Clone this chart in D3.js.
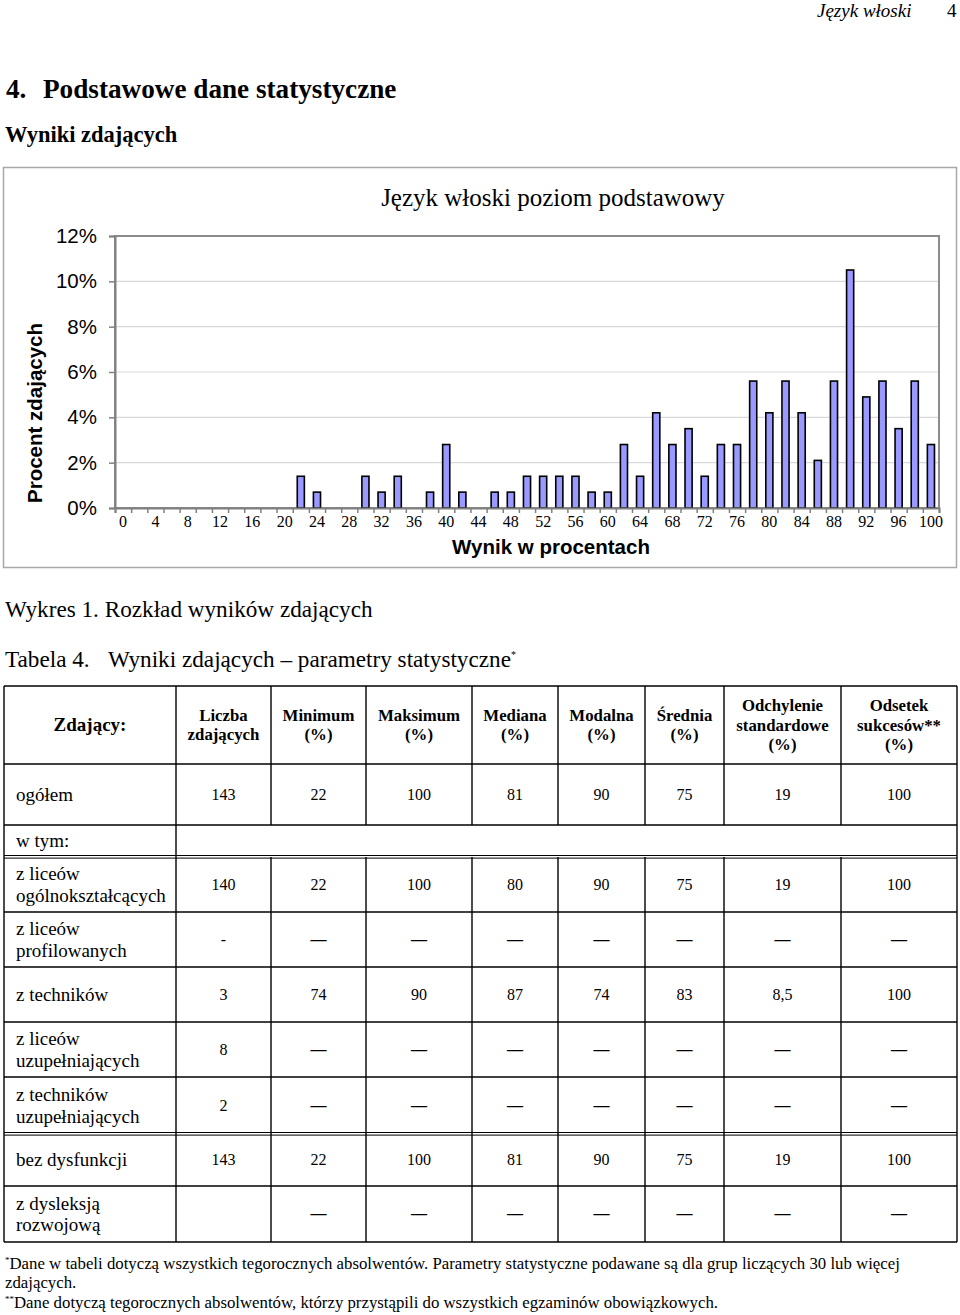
<!DOCTYPE html>
<html>
<head>
<meta charset="utf-8">
<script src="https://cdn.jsdelivr.net/npm/d3@7"></script>
<style>
body { margin: 0; background: #fff; }
svg text { font-family: "Liberation Serif", "Times New Roman", serif; fill: #000; }
svg text.sans, .sans text { font-family: "Liberation Sans", Arial, sans-serif; }
</style>
</head>
<body>
<svg id="page" width="960" height="1315"></svg>
<script>
// CHART DATA ////////////////////////////////////////
var scores = [0, 2, 4, 6, 8, 10, 12, 14, 16, 18, 20, 22, 24, 26, 28, 30, 32, 34, 36, 38, 40, 42, 44, 46, 48, 50,
	      52, 54, 56, 58, 60, 62, 64, 66, 68, 70, 72, 74, 76, 78, 80, 82, 84, 86, 88, 90, 92, 94, 96, 98, 100];
// percent of candidates for each score
var percent = [0, 0, 0, 0, 0, 0, 0, 0, 0, 0, 0, 1.4, 0.7, 0, 0, 1.4, 0.7, 1.4, 0, 0.7, 2.8, 0.7, 0, 0.7, 0.7, 1.4,
	       1.4, 1.4, 1.4, 0.7, 0.7, 2.8, 1.4, 4.2, 2.8, 3.5, 1.4, 2.8, 2.8, 5.6, 4.2, 5.6, 4.2, 2.1, 5.6, 10.5, 4.9, 5.6, 3.5, 5.6, 2.8];
var yTicks = [0, 2, 4, 6, 8, 10, 12];
var xLabels = [0, 4, 8, 12, 16, 20, 24, 28, 32, 36, 40, 44, 48, 52, 56, 60, 64, 68, 72, 76, 80, 84, 88, 92, 96, 100];

// TABLE DATA ////////////////////////////////////////
var colHeads = [['Zdający:'], ['Liczba', 'zdających'], ['Minimum', '(%)'], ['Maksimum', '(%)'], ['Mediana', '(%)'],
		['Modalna', '(%)'], ['Średnia', '(%)'], ['Odchylenie', 'standardowe', '(%)'], ['Odsetek', 'sukcesów**', '(%)']];
var rowLabels = [['ogółem'], ['w tym:'], ['z liceów', 'ogólnokształcących'], ['z liceów', 'profilowanych'], ['z techników'],
		 ['z liceów', 'uzupełniających'], ['z techników', 'uzupełniających'], ['bez dysfunkcji'], ['z dysleksją', 'rozwojową']];
var D = '—';
var rowValues = [['143', '22', '100', '81', '90', '75', '19', '100'],
		 null,
		 ['140', '22', '100', '80', '90', '75', '19', '100'],
		 ['-', D, D, D, D, D, D, D],
		 ['3', '74', '90', '87', '74', '83', '8,5', '100'],
		 ['8', D, D, D, D, D, D, D],
		 ['2', D, D, D, D, D, D, D],
		 ['143', '22', '100', '81', '90', '75', '19', '100'],
		 ['', D, D, D, D, D, D, D]];

var svg = d3.select('#page');

// PAGE TEXTS ////////////////////////////////////////
svg.append('text').attr('x', 817).attr('y', 17).style('font-size', '19px').style('font-style', 'italic').text('Język włoski');
svg.append('text').attr('x', 947).attr('y', 17).style('font-size', '19px').text('4');
svg.append('text').attr('x', 6).attr('y', 98).style('font-size', '27.2px').style('font-weight', 'bold').text('4.');
svg.append('text').attr('x', 43).attr('y', 98).style('font-size', '27.2px').style('font-weight', 'bold').text('Podstawowe dane statystyczne');
svg.append('text').attr('x', 5).attr('y', 142).style('font-size', '22.5px').style('font-weight', 'bold').text('Wyniki zdających');

// CHART /////////////////////////////////////////////
var plot = {left: 115, top: 236, right: 939, bottom: 508};

svg.append('rect')
    .attr('x', 3.5).attr('y', 167.5).attr('width', 953).attr('height', 400)
    .attr('fill', 'none').attr('stroke', '#a8a8a8').attr('stroke-width', 1.5);

svg.append('text').attr('x', 553).attr('y', 206).attr('text-anchor', 'middle')
    .style('font-size', '25px').text('Język włoski poziom podstawowy');

var x = d3.scaleBand().domain(scores).range([plot.left, plot.right]).paddingInner(0.56).paddingOuter(0.28);
var xb = d3.scaleLinear().domain([0, scores.length]).range([plot.left, plot.right]);
var y = d3.scaleLinear().domain([0, 12]).range([plot.bottom, plot.top]);

// grid
svg.append('g').selectAll('line').data(yTicks.slice(1, -1)).enter().append('line')
    .attr('x1', plot.left).attr('x2', plot.right)
    .attr('y1', function(d) { return y(d); }).attr('y2', function(d) { return y(d); })
    .attr('stroke', '#d9d9d9').attr('stroke-width', 1.2);

svg.append('rect')
    .attr('x', plot.left).attr('y', plot.top).attr('width', plot.right - plot.left).attr('height', plot.bottom - plot.top)
    .attr('fill', 'none').attr('stroke', '#8c8c8c').attr('stroke-width', 2);

// bars
svg.append('g').selectAll('rect').data(scores.filter(function(d, i) { return percent[i] > 0; }))
    .enter().append('rect')
    .attr('x', function(d) { return x(d); })
    .attr('width', x.bandwidth())
    .attr('y', function(d) { return y(percent[scores.indexOf(d)]); })
    .attr('height', function(d) { return y(0) - y(percent[scores.indexOf(d)]); })
    .attr('fill', '#9999ff').attr('stroke', '#000').attr('stroke-width', 1.6);

// y axis
var yAxis = svg.append('g').attr('class', 'sans').attr('transform', 'translate(' + plot.left + ',0)')
    .call(d3.axisLeft(y).tickValues(yTicks).tickSize(6).tickPadding(12).tickFormat(function(d) { return d + '%'; }));
yAxis.select('.domain').attr('stroke', '#808080').attr('stroke-width', 2);
yAxis.selectAll('.tick line').attr('stroke', '#808080').attr('stroke-width', 1.5);
yAxis.selectAll('text').style('font-size', '20.5px').attr('font-family', null);

// x axis: ticks on category borders, labels under every other category
var xTicks = svg.append('g').attr('transform', 'translate(0,' + plot.bottom + ')')
    .call(d3.axisBottom(xb).tickValues(d3.range(scores.length + 1)).tickSize(5).tickFormat(''));
xTicks.select('.domain').attr('stroke', '#808080').attr('stroke-width', 2);
xTicks.selectAll('.tick line').attr('stroke', '#808080').attr('stroke-width', 1.5);

var xAxis = svg.append('g').attr('transform', 'translate(0,' + plot.bottom + ')')
    .call(d3.axisBottom(x).tickValues(xLabels).tickSize(0).tickPadding(8));
xAxis.select('.domain').remove();
xAxis.selectAll('text').style('font-size', '16px').attr('font-family', null);

svg.append('text').attr('class', 'sans').attr('x', 551).attr('y', 554).attr('text-anchor', 'middle')
    .style('font-size', '20.5px').style('font-weight', 'bold').text('Wynik w procentach');
svg.append('text').attr('class', 'sans').attr('transform', 'translate(42,413) rotate(-90)').attr('text-anchor', 'middle')
    .style('font-size', '20.5px').style('font-weight', 'bold').text('Procent zdających');

// CAPTIONS //////////////////////////////////////////
svg.append('text').attr('x', 5).attr('y', 617).style('font-size', '23.2px').text('Wykres 1.  Rozkład wyników zdających');
svg.append('text').attr('x', 5).attr('y', 667).style('font-size', '23.2px').text('Tabela 4.');
var cap = svg.append('text').attr('x', 108).attr('y', 667).style('font-size', '23.2px');
cap.append('tspan').text('Wyniki zdających – parametry statystyczne');
cap.append('tspan').attr('dy', -9).style('font-size', '10px').text('*');

// TABLE /////////////////////////////////////////////
var colX = [4, 176, 271, 366, 472, 558, 645, 724, 841, 957];
var rowY = [686, 764, 825, 857, 912, 967, 1022, 1077, 1134, 1186, 1242];
var tbl = svg.append('g');

// horizontal lines
rowY.forEach(function(yy, i) {
    if (i == 3 || i == 8) {
	tbl.append('line').attr('x1', colX[0]).attr('x2', colX[9]).attr('y1', yy - 1.5).attr('y2', yy - 1.5)
	    .attr('stroke', '#000').attr('stroke-width', 1.2);
	tbl.append('line').attr('x1', colX[0]).attr('x2', colX[9]).attr('y1', yy + 1.2).attr('y2', yy + 1.2)
	    .attr('stroke', '#333').attr('stroke-width', 1.2);
    } else {
	tbl.append('line').attr('x1', colX[0]).attr('x2', colX[9]).attr('y1', yy).attr('y2', yy)
	    .attr('stroke', '#000').attr('stroke-width', 1.4);
    }
});
// vertical lines, row by row
for (var r = 0; r < rowY.length - 1; r++) {
    var merged = (r == 2); // "w tym:" row
    colX.forEach(function(xx, c) {
	if (merged && c > 1 && c < 9) return;
	tbl.append('line').attr('x1', xx).attr('x2', xx).attr('y1', rowY[r]).attr('y2', rowY[r + 1])
	    .attr('stroke', '#000').attr('stroke-width', 1.4);
    });
}

function multiline(g, lines, xx, cy, size, lh, anchor, weight) {
    var t = g.append('text').attr('text-anchor', anchor).style('font-size', size + 'px').style('font-weight', weight);
    var y0 = cy - (lines.length - 1) * lh / 2 + size * 0.33;
    lines.forEach(function(l, i) {
	t.append('tspan').attr('x', xx).attr('y', y0 + i * lh).text(l);
    });
}

// header
colHeads.forEach(function(h, c) {
    var cx = (colX[c] + colX[c + 1]) / 2;
    var cy = (rowY[0] + rowY[1]) / 2;
    if (c == 0)
	multiline(tbl, h, cx, cy, 19, 20, 'middle', 'bold');
    else
	multiline(tbl, h, cx, cy, 16.8, 19.5, 'middle', 'bold');
});

// body
rowLabels.forEach(function(lab, i) {
    var r = i + 1;
    var cy = (rowY[r] + rowY[r + 1]) / 2;
    multiline(tbl, lab, 16, cy, 19, 21.5, 'start', 'normal');
    var vals = rowValues[i];
    if (!vals) return;
    vals.forEach(function(v, c) {
	var cx = (colX[c + 1] + colX[c + 2]) / 2;
	multiline(tbl, [v], cx, cy, 16, 20, 'middle', v == D ? 'bold' : 'normal');
    });
});

// FOOTNOTES /////////////////////////////////////////
var f1 = svg.append('text').attr('x', 5).attr('y', 1269).style('font-size', '16.8px');
f1.append('tspan').attr('dy', -6).style('font-size', '9px').text('*');
f1.append('tspan').attr('dy', 6).text('Dane w tabeli dotyczą wszystkich tegorocznych absolwentów. Parametry statystyczne podawane są dla grup liczących 30 lub więcej');
svg.append('text').attr('x', 5).attr('y', 1288).style('font-size', '16.8px').text('zdających.');
var f2 = svg.append('text').attr('x', 5).attr('y', 1308).style('font-size', '16.8px');
f2.append('tspan').attr('dy', -6).style('font-size', '9px').text('**');
f2.append('tspan').attr('dy', 6).text('Dane dotyczą tegorocznych absolwentów, którzy przystąpili do wszystkich egzaminów obowiązkowych.');
</script>
</body>
</html>
